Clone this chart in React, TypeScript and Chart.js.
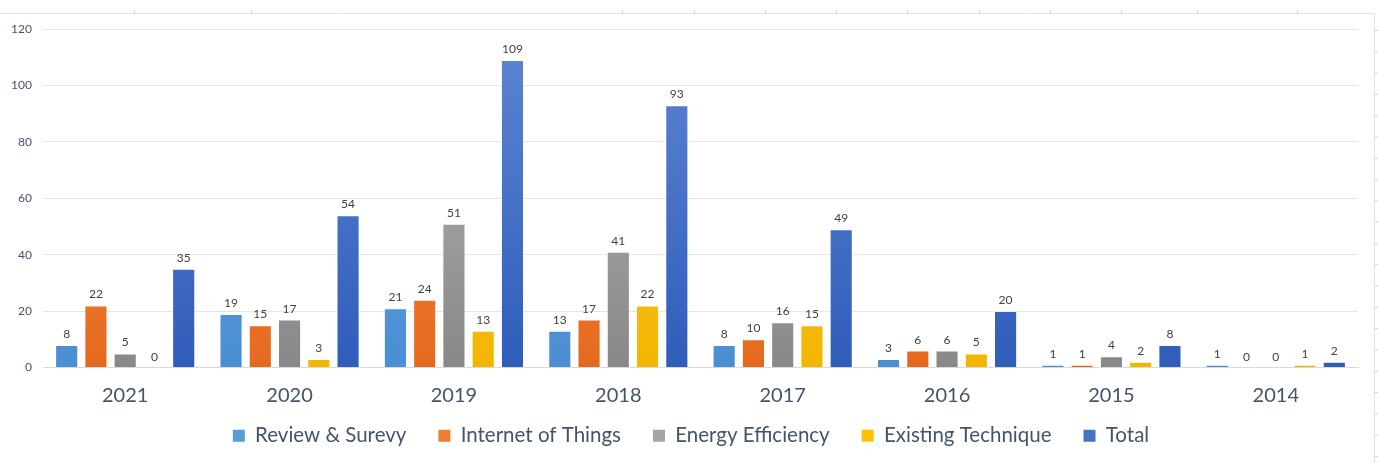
import React, { useEffect, useRef } from "react";
import { Chart, registerables } from "chart.js";

Chart.register(...registerables);

const categories = ["2021", "2020", "2019", "2018", "2017", "2016", "2015", "2014"];
const reviewSurvey = [8, 19, 21, 13, 8, 3, 1, 1];
const internetOfThings = [22, 15, 24, 17, 10, 6, 1, 0];
const energyEfficiency = [5, 17, 51, 41, 16, 6, 4, 0];
const existingTechnique = [0, 3, 13, 22, 15, 5, 2, 1];
const total = [35, 54, 109, 93, 49, 20, 8, 2];
const yTicks = [0, 20, 40, 60, 80, 100, 120];

const FONT = "Lato, 'Open Sans', sans-serif";
const TEXT = "#44546A";

type Grad = [string, string, string];
const seriesDefs: { label: string; data: number[]; grad: Grad }[] = [
  { label: "Review & Surevy", data: reviewSurvey, grad: ["#72A9E0", "#4A8ED3", "#5B9BD5"] },
  { label: "Internet of Things", data: internetOfThings, grad: ["#F4975F", "#E5691C", "#ED7D31"] },
  { label: "Energy Efficiency", data: energyEfficiency, grad: ["#B8B8B8", "#888888", "#A5A5A5"] },
  { label: "Existing Technique", data: existingTechnique, grad: ["#FFD24A", "#F2B500", "#FFC000"] },
  { label: "Total", data: total, grad: ["#5F86D3", "#2E5DBA", "#4472C4"] },
];

const valueLabels = {
  id: "valueLabels",
  afterDatasetsDraw(chart: any) {
    const ctx = chart.ctx;
    ctx.save();
    ctx.font = `12px ${FONT}`;
    ctx.fillStyle = "#404040";
    ctx.textAlign = "center";
    ctx.textBaseline = "alphabetic";
    chart.data.datasets.forEach((ds: any, i: number) => {
      const meta = chart.getDatasetMeta(i);
      meta.data.forEach((bar: any, j: number) => {
        ctx.fillText(String(ds.data[j]), bar.x, bar.y - 7);
      });
    });
    ctx.restore();
  },
};

const axisLabels = {
  id: "axisLabels",
  afterDraw(chart: any) {
    const ctx = chart.ctx;
    const xs = chart.scales.x;
    const ys = chart.scales.y;
    ctx.save();
    ctx.font = `20px ${FONT}`;
    ctx.fillStyle = TEXT;
    ctx.textAlign = "center";
    ctx.textBaseline = "middle";
    (chart.data.labels as string[]).forEach((lab, i) => {
      ctx.fillText(lab, xs.getPixelForTick(i), xs.top + 28);
    });
    ctx.font = `12px ${FONT}`;
    ctx.textAlign = "right";
    yTicks.forEach((v) => {
      ctx.fillText(String(v), chart.chartArea.left - 11, ys.getPixelForValue(v));
    });
    ctx.restore();
  },
};

const frame = {
  id: "frame",
  beforeDraw(chart: any) {
    const ctx = chart.ctx;
    ctx.save();
    ctx.strokeStyle = "#E3E3E3";
    ctx.lineWidth = 1;
    ctx.beginPath();
    ctx.moveTo(0, 13.5);
    ctx.lineTo(1374, 13.5);
    ctx.moveTo(1374.5, 13);
    ctx.lineTo(1374.5, 463);
    ctx.stroke();
    ctx.strokeStyle = "#D0D0D0";
    ctx.beginPath();
    [134, 251, 622, 694, 765, 836, 907, 979, 1050, 1121, 1197, 1297].forEach((x) => {
      ctx.moveTo(x + 0.5, 10);
      ctx.lineTo(x + 0.5, 13);
    });
    for (let y = 30; y < 463; y += 21.3) {
      ctx.moveTo(1375, y + 0.5);
      ctx.lineTo(1378, y + 0.5);
    }
    ctx.stroke();
    ctx.restore();
  },
};

export default function App() {
  const ref = useRef<HTMLCanvasElement | null>(null);
  useEffect(() => {
    if (!ref.current) return;
    const makeGrad = (g: Grad) => (c: any) => {
      const area = c.chart.chartArea;
      if (!area) return g[2];
      const y0 = c.chart.scales.y.getPixelForValue(0);
      const el = c.element;
      const top = el && typeof el.y === "number" ? el.y : area.top;
      const grd = c.chart.ctx.createLinearGradient(0, Math.min(top, y0 - 1), 0, y0);
      grd.addColorStop(0, g[0]);
      grd.addColorStop(1, g[1]);
      return grd;
    };
    const chart = new Chart(ref.current, {
      type: "bar",
      data: {
        labels: categories,
        datasets: seriesDefs.map((s) => ({
          label: s.label,
          data: s.data,
          backgroundColor: makeGrad(s.grad),
          borderColor: "rgba(255,255,255,0.35)",
          borderWidth: 1,
          categoryPercentage: 0.89,
          barPercentage: 0.79,
        })),
      },
      options: {
        animation: false,
        responsive: false,
        layout: { padding: { top: 29, right: 22, left: 24, bottom: 7 } },
        plugins: {
          tooltip: { enabled: false },
          legend: {
            position: "bottom",
            labels: {
              font: { family: FONT, size: 20.5 },
              color: TEXT,
              boxWidth: 12,
              boxHeight: 12,
              padding: 32,
              generateLabels: () =>
                seriesDefs.map((s, i) => ({
                  text: s.label,
                  fillStyle: s.grad[2],
                  strokeStyle: s.grad[2],
                  lineWidth: 0,
                  hidden: false,
                  datasetIndex: i,
                  fontColor: TEXT,
                })),
            },
          },
        },
        scales: {
          x: {
            grid: { display: false, drawTicks: false },
            border: { color: "#D9D9D9" },
            afterFit: (axis: any) => {
              axis.height = 26;
            },
            ticks: { display: false },
          },
          y: {
            min: 0,
            max: 120,
            afterBuildTicks: (axis: any) => {
              axis.ticks = yTicks.map((v) => ({ value: v }));
            },
            afterFit: (axis: any) => {
              axis.width = 19;
            },
            grid: { color: "#E6E6E6", drawTicks: false },
            border: { display: false },
            ticks: { display: false },
          },
        },
      },
      plugins: [valueLabels, axisLabels, frame],
    });
    return () => chart.destroy();
  }, []);
  return (
    <div style={{ position: "absolute", left: 0, top: 0, width: 1380, height: 463, background: "#fff" }}>
      <canvas ref={ref} width={1380} height={463} style={{ display: "block" }} />
    </div>
  );
}
